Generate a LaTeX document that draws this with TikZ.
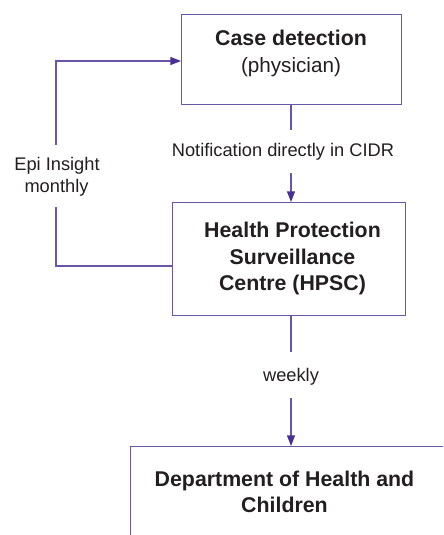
\documentclass[tikz,border=0pt]{standalone}
\usepackage{fontspec}
\setmainfont{Liberation Sans}
\usetikzlibrary{arrows.meta}
\definecolor{ln}{HTML}{6B55A8}
\definecolor{ah}{HTML}{4A2F95}
\definecolor{tx}{HTML}{231F20}
\begin{document}
\begin{tikzpicture}[x=0.75pt,y=-0.75pt,
  boxshape/.style={draw=ln, line width=1pt, inner sep=0pt, anchor=north west},
  boldtxt/.style={font=\fontsize{16}{19}\selectfont\bfseries, text=tx, anchor=base, inner sep=0pt},
  regtxt/.style={font=\fontsize{15.5}{19}\selectfont, text=tx, anchor=base, inner sep=0pt},
  labtxt/.style={font=\fontsize{13.7}{16}\selectfont, text=tx, anchor=base, inner sep=0pt},
  conn/.style={draw=ln, line width=1pt},
  arr/.style={conn, -{Triangle[length=8pt,width=6pt,fill=ah,color=ah]}}]
\useasboundingbox (0,0) rectangle (443,535);
\clip (0,0) rectangle (443,535);
\fill[white] (0,0) rectangle (443,535);
% boxes
\node[boxshape, minimum width=165pt, minimum height=67.5pt] (b1) at (181,14) {};
\node[boxshape, minimum width=174.75pt, minimum height=84.75pt] (b2) at (172,202) {};
\node[boxshape, minimum width=270pt, minimum height=90pt] (b3) at (130,446) {};
% box texts
\node[boldtxt] (t1a) at (291,46) {Case detection};
\node[regtxt] (t1b) at (291,73) {(physician)};
\node[boldtxt] (t2a) at (292.5,237) {Health Protection};
\node[boldtxt] (t2b) at (292.5,264) {Surveillance};
\node[boldtxt] (t2c) at (292.5,290) {Centre (HPSC)};
\node[boldtxt] (t3a) at (284.5,486) {Department of Health and};
\node[boldtxt] (t3b) at (284.5,512) {Children};
% labels
\node[labtxt] (notif) at (283,156) {Notification directly in CIDR};
\node[labtxt] (epi1) at (57,170) {Epi Insight};
\node[labtxt] (epi2) at (56.5,192) {monthly};
\node[labtxt] (wk) at (291,381) {weekly};
% connector points
\coordinate (n1) at (291,130);
\coordinate (n2) at (291,173);
\coordinate (w1) at (291,352);
\coordinate (w2) at (291,398);
\coordinate (e0) at (172,266);
\coordinate (e1) at (56,266);
\coordinate (e2) at (56,207);
\coordinate (e3) at (56,145);
\coordinate (e4) at (56,61);
\coordinate (e5) at (181,61);
% connectors
\draw[conn] (b1.south -| n1) -- (n1);
\draw[arr] (n2) -- (b2.north -| n2);
\draw[conn] (b2.south -| w1) -- (w1);
\draw[arr] (w2) -- (b3.north -| w2);
\draw[conn] (e0) -- (e1) -- (e2);
\draw[arr] (e3) -- (e4) -- (e5);
\end{tikzpicture}
\end{document}
